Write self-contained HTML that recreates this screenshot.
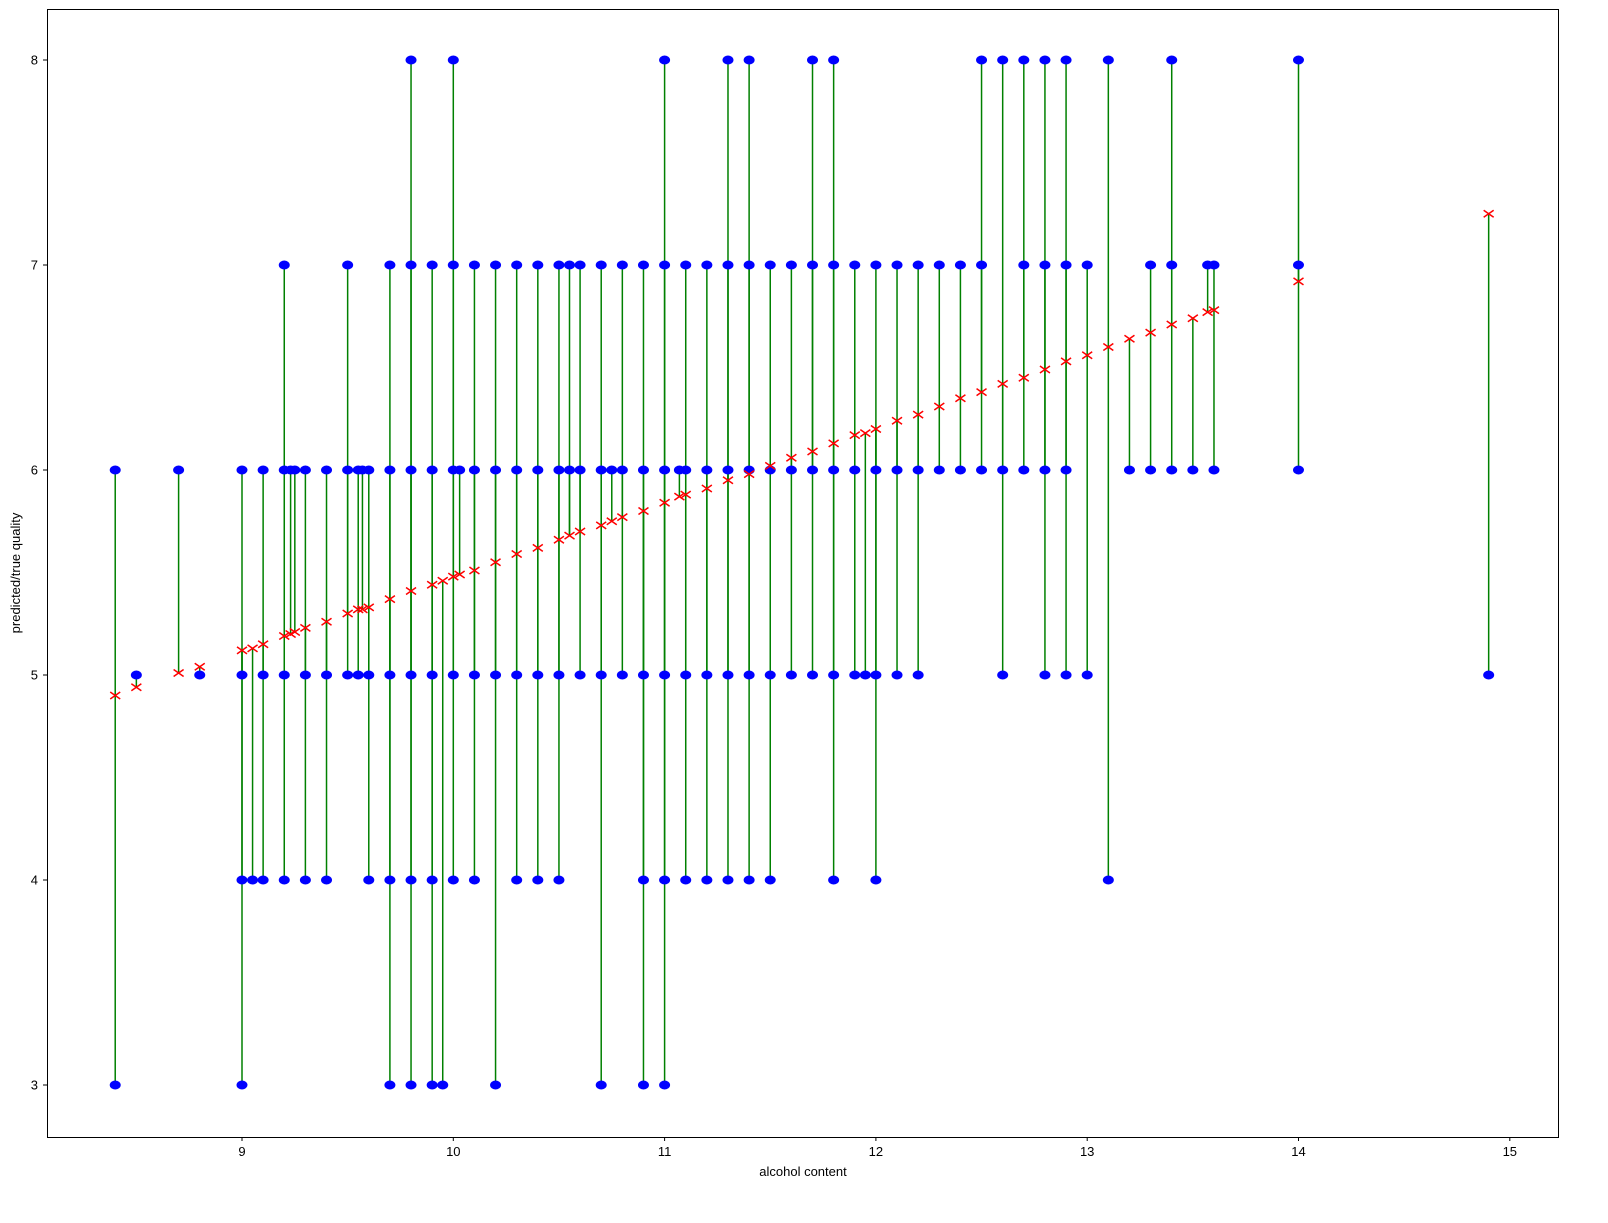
<!DOCTYPE html>
<html><head><meta charset="utf-8"><style>
html,body{margin:0;padding:0;background:#fff;}
svg text{font-family:"Liberation Sans",sans-serif;font-size:13px;fill:#000;}
</style></head><body>
<svg id="chart" width="1608" height="1218" xmlns="http://www.w3.org/2000/svg">
<rect x="0" y="0" width="1608" height="1218" fill="#fff"/>
<g id="marks"></g>
<rect x="47.5" y="9.5" width="1511" height="1128" fill="none" stroke="#000" stroke-width="1"/>
<g id="axes"></g>
<text x="803" y="1176" text-anchor="middle">alcohol content</text>
<text transform="translate(20,573) rotate(-90)" text-anchor="middle">predicted/true quality</text>
</svg>
<script>
const alcohol = [8.4,8.5,8.7,8.8,9.0,9.05,9.1,9.2,9.23,9.25,9.3,9.4,9.5,9.55,9.57,9.6,9.7,9.8,9.9,9.95,10.0,10.03,10.1,10.2,10.3,10.4,10.5,10.55,10.6,10.7,10.75,10.8,10.9,11.0,11.07,11.1,11.2,11.3,11.4,11.5,11.6,11.7,11.8,11.9,11.95,12.0,12.1,12.2,12.3,12.4,12.5,12.6,12.7,12.8,12.9,13.0,13.1,13.2,13.3,13.4,13.5,13.57,13.6,14.0,14.9];
const predicted = [4.90,4.94,5.01,5.04,5.12,5.13,5.15,5.19,5.20,5.21,5.23,5.26,5.30,5.32,5.32,5.33,5.37,5.41,5.44,5.46,5.48,5.49,5.51,5.55,5.59,5.62,5.66,5.68,5.70,5.73,5.75,5.77,5.80,5.84,5.87,5.88,5.91,5.95,5.98,6.02,6.06,6.09,6.13,6.17,6.18,6.20,6.24,6.27,6.31,6.35,6.38,6.42,6.45,6.49,6.53,6.56,6.60,6.64,6.67,6.71,6.74,6.77,6.78,6.92,7.25];
const trueQuality = [[6,3],[5],[6],[5],[6,5,4,3],[4],[6,5,4],[7,6,5,4],[6],[6],[6,5,4],[6,5,4],[7,6,5],[6,5],[6],[6,5,4],[7,6,5,4,3],[8,7,6,5,4,3],[7,6,5,4,3],[3],[8,7,6,5,4],[6],[7,6,5,4],[7,6,5,3],[7,6,5,4],[7,6,5,4],[7,6,5,4],[7,6],[7,6,5],[7,6,5,3],[6],[7,6,5],[7,6,5,4,3],[8,7,6,5,4,3],[6],[7,6,5,4],[7,6,5,4],[8,7,6,5,4],[8,7,6,5,4],[7,6,5,4],[7,6,5],[8,7,6,5],[8,7,6,5,4],[7,6,5],[5],[7,6,5,4],[7,6,5],[7,6,5],[7,6],[7,6],[8,7,6],[8,6,5],[8,7,6],[8,7,6,5],[8,7,6,5],[7,5],[8,4],[6],[7,6],[8,7,6],[6],[7],[7,6],[8,7,6],[5]];
const xTicks = [9,10,11,12,13,14,15];
const yTicks = [3,4,5,6,7,8];

const NS = "http://www.w3.org/2000/svg";
function sx(v){ return 242 + (v - 9) * 211.3; }
function sy(v){ return 60 + (8 - v) * 205; }
function mk(tag, attrs, parent){
  const e = document.createElementNS(NS, tag);
  for (const k in attrs) e.setAttribute(k, attrs[k]);
  parent.appendChild(e);
  return e;
}
const marks = document.getElementById('marks');
const gl = mk('g', {}, marks);
const gd = mk('g', {}, marks);
const gx = mk('g', {}, marks);
alcohol.forEach((a, i) => {
  const x = sx(a), yp = sy(predicted[i]);
  trueQuality[i].forEach(q => {
    const ln = mk('line', {x1:x, x2:x, y1:yp, y2:sy(q), stroke:'#008000', 'stroke-width':1.5}, gl);
    
    
    const c = mk('ellipse', {cx:x, cy:sy(q), rx:5.5, ry:4.5, fill:'#0000ff'}, gd);
    
    
  });
  const s = 5;
  const p = mk('path', {d:`M${x-s},${yp-s*0.7}L${x+s},${yp+s*0.7}M${x-s},${yp+s*0.7}L${x+s},${yp-s*0.7}`, stroke:'#ff0000', 'stroke-width':1.5, fill:'none'}, gx);
  
  
});
const axes = document.getElementById('axes');
xTicks.forEach(t => {
  const x = sx(t);
  const l = mk('line', {x1:x, x2:x, y1:1137, y2:1141, stroke:'#000'}, axes);
  
  
  const tx = mk('text', {x:x, y:1156, 'text-anchor':'middle'}, axes);
  tx.textContent = t;
  
  
});
yTicks.forEach(t => {
  const y = sy(t);
  const l = mk('line', {x1:43, x2:47, y1:y, y2:y, stroke:'#000'}, axes);
  
  
  const tx = mk('text', {x:38, y:y + 4.5, 'text-anchor':'end'}, axes);
  tx.textContent = t;
  
  
});
</script>
</body></html>
